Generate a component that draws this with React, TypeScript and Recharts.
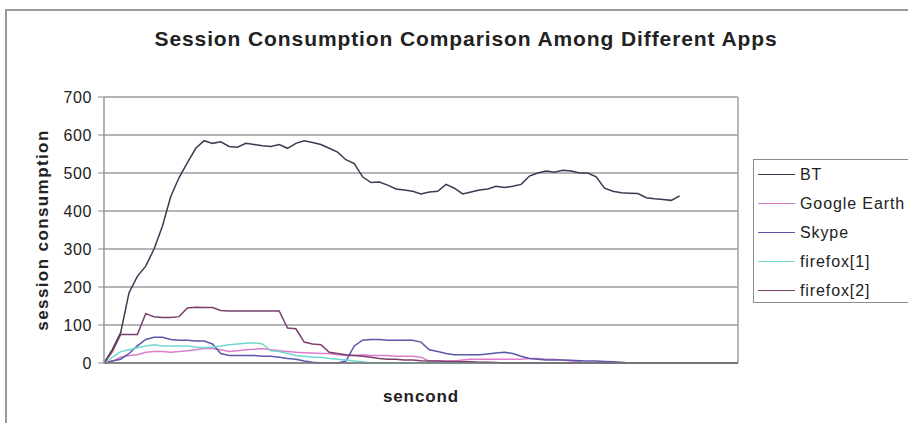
import React from 'react';
import { LineChart, Line, XAxis, YAxis, CartesianGrid, Legend, ReferenceLine } from 'recharts';

// sampled every 4 "seconds"
const seconds = [
  0, 4, 8, 12, 16, 20, 24, 28, 32, 36, 40, 44, 48, 52, 56, 60, 64, 68, 72, 76,
  80, 84, 88, 92, 96, 100, 104, 108, 112, 116, 120, 124, 128, 132, 136, 140, 144, 148, 152, 156,
  160, 164, 168, 172, 176, 180, 184, 188, 192, 196, 200, 204, 208, 212, 216, 220, 224, 228, 232, 236,
  240, 244, 248, 252, 256, 260, 264, 268, 272, 276, 280, 284, 288, 292, 296, 300, 304,
];

const bt = [
  0, 35, 80, 185, 228, 255, 300, 360, 438, 488, 527, 565, 585, 578, 582, 570, 568, 578, 575, 572,
  570, 575, 565, 578, 585, 580, 575, 565, 555, 535, 525, 490, 475, 476, 468, 458, 455, 452, 445, 450,
  452, 470, 460, 445, 450, 455, 458, 465, 462, 465, 470, 492, 500, 505, 502, 507, 505, 500, 500, 490,
  460, 452, 448, 447, 446, 435, 432, 430, 428, 440, null, null, null, null, null, null, null,
];

const googleEarth = [
  0, 5, 15, 20, 22, 28, 30, 30, 28, 30, 32, 35, 38, 38, 35, 30, 32, 35, 36, 38,
  35, 32, 30, 28, 27, 26, 25, 25, 22, 20, 20, 22, 20, 20, 20, 18, 18, 18, 15, 5,
  5, 5, 5, 8, 10, 10, 10, 10, 10, 10, 10, 12, 12, 10, 10, 8, 5, 3, 0, 0,
  0, 0, 0, 0, 0, 0, 0, 0, 0, 0, 0, 0, 0, 0, 0, 0, 0,
];

const skype = [
  0, 5, 10, 25, 45, 62, 68, 68, 62, 60, 60, 58, 58, 50, 25, 20, 20, 20, 20, 18,
  18, 15, 12, 10, 5, 2, 0, 0, 0, 5, 45, 60, 62, 62, 60, 60, 60, 60, 55, 35,
  30, 25, 22, 22, 22, 22, 24, 26, 28, 25, 18, 12, 10, 8, 8, 8, 7, 6, 5, 5,
  4, 3, 2, 0, 0, 0, 0, 0, 0, 0, 0, 0, 0, 0, 0, 0, 0,
];

const firefox1 = [
  0, 15, 30, 35, 40, 45, 48, 45, 45, 45, 45, 42, 40, 42, 45, 48, 50, 52, 53, 50,
  32, 30, 25, 20, 18, 15, 15, 12, 10, 8, 5, 3, 0, 0, 0, 0, 0, 0, 0, 0,
  0, 0, 0, 0, 0, 0, 0, 0, 0, 0, 0, 0, 0, 0, 0, 0, 0, 0, 0, 0,
  0, 0, 0, 0, 0, 0, 0, 0, 0, 0, 0, 0, 0, 0, 0, 0, 0,
];

const firefox2 = [
  0, 30, 75, 75, 75, 130, 122, 120, 120, 122, 145, 147, 146, 146, 138, 137, 137, 137, 137, 137,
  137, 137, 92, 90, 55, 50, 48, 28, 25, 22, 20, 18, 15, 12, 10, 10, 8, 8, 6, 5,
  5, 4, 4, 3, 3, 2, 2, 1, 0, 0, 0, 0, 0, 0, 0, 0, 0, 0, 0, 0,
  0, 0, 0, 0, 0, 0, 0, 0, 0, 0, 0, 0, 0, 0, 0, 0, 0,
];

const yTicks = [0, 100, 200, 300, 400, 500, 600, 700];

const series = [
  { key: 'bt', name: 'BT', color: '#3a3a52', values: bt },
  { key: 'googleEarth', name: 'Google Earth', color: '#dc7ccc', values: googleEarth },
  { key: 'skype', name: 'Skype', color: '#5a58a8', values: skype },
  { key: 'firefox1', name: 'firefox[1]', color: '#6fd8d0', values: firefox1 },
  { key: 'firefox2', name: 'firefox[2]', color: '#7a3f6c', values: firefox2 },
];

const data = seconds.map((t, i) => {
  const row: Record<string, number | null> = { t };
  series.forEach((s) => { row[s.key] = s.values[i]; });
  return row;
});

const FONT = '"Liberation Sans", Arial, sans-serif';

const LegendBox = ({ payload }: any) => (
  <div style={{ border: '1.5px solid #8a8a8a', background: '#fff', boxSizing: 'border-box', height: 144, padding: '0 0 0 4px', width: 180, fontFamily: FONT, fontSize: 16, letterSpacing: 0.9, color: '#222' }}>
    {(payload || []).map((p: any) => (
      <div key={p.value} style={{ display: 'flex', alignItems: 'center', height: 29, whiteSpace: 'nowrap' }}>
        <span style={{ width: 37, flex: 'none', borderTop: `1.5px solid ${p.color}`, marginRight: 5 }} />
        <span>{p.value}</span>
      </div>
    ))}
  </div>
);

export default function App() {
  return (
    <div style={{ position: 'absolute', left: 0, top: 0, width: 908, height: 423, overflow: 'hidden', background: '#fff', fontFamily: FONT }}>
      <div style={{ position: 'absolute', left: 5, top: 9, width: 1000, height: 500, borderLeft: '2px solid #9a9a9a', borderTop: '2px solid #9a9a9a' }} />
      <div style={{ position: 'absolute', left: 0, top: 27, width: 932, textAlign: 'center', fontWeight: 'bold', fontSize: 21, letterSpacing: 0.9, color: '#222', whiteSpace: 'nowrap' }}>
        Session Consumption Comparison Among Different Apps
      </div>
      <div style={{ position: 'absolute', left: 0, top: 0 }}>
        <LineChart width={908} height={423} data={data} margin={{ top: 97, right: 170, bottom: 40, left: 44 }}>
          <CartesianGrid vertical={false} stroke="#9c9c9c" strokeWidth={1.5} />
          <XAxis
            type="number"
            dataKey="t"
            domain={[0, 304]}
            tick={false}
            tickLine={false}
            height={20}
            axisLine={{ stroke: '#7a7a7a', strokeWidth: 1.5 }}
            label={{ value: 'sencond', position: 'bottom', offset: 7, fill: '#222', fontSize: 17, fontWeight: 'bold', letterSpacing: 0.9 }}
          />
          <YAxis
            domain={[0, 700]}
            ticks={yTicks}
            width={60}
            tickSize={6}
            tickMargin={6}
            tick={{ fill: '#222', fontSize: 16, letterSpacing: 0.6 }}
            tickLine={{ stroke: '#888' }}
            axisLine={{ stroke: '#999', strokeWidth: 1.5 }}
            label={{ value: 'session consumption', angle: -90, position: 'center', dx: -32, fill: '#222', fontSize: 17, fontWeight: 'bold', letterSpacing: 1.4 }}
          />
          <ReferenceLine x={304} stroke="#a0a0a0" strokeWidth={1.5} />
          <Legend
            layout="vertical"
            align="center"
            verticalAlign="middle"
            content={<LegendBox />}
            wrapperStyle={{ left: 753, top: 159, width: 180 }}
          />
          {series.map((s) => (
            <Line
              key={s.key}
              type="linear"
              dataKey={s.key}
              name={s.name}
              stroke={s.color}
              strokeWidth={1.5}
              dot={false}
              isAnimationActive={false}
            />
          ))}
        </LineChart>
      </div>
    </div>
  );
}
